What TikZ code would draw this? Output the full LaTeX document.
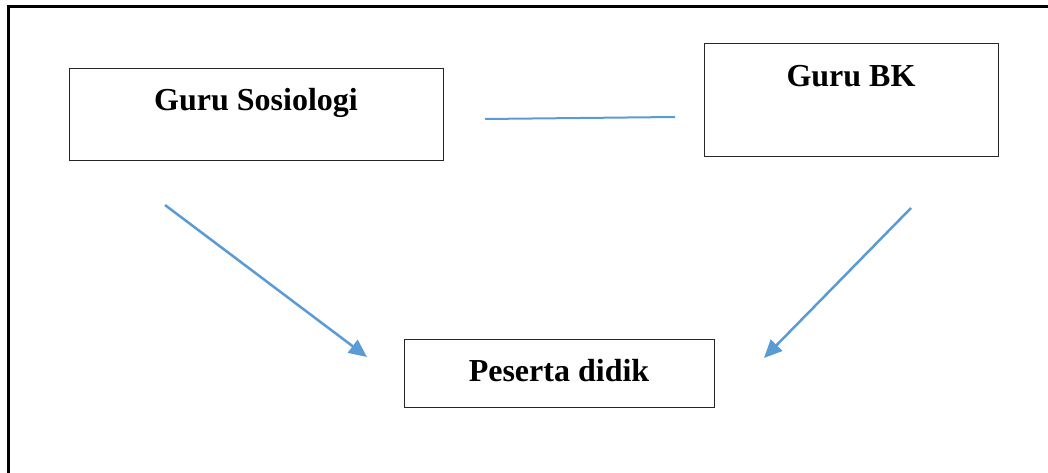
\documentclass[tikz,border=0pt]{standalone}
\usepackage{fontspec}
\setmainfont{Liberation Serif}
\usetikzlibrary{arrows.meta,calc,positioning}
\definecolor{garis}{RGB}{91,155,213}
\tikzstyle{box} = [draw=black!85, rectangle, line width=1pt, inner sep=0pt]
\tikzstyle{judul} = [anchor=base, inner sep=0pt, font=\fontsize{32}{38}\selectfont\bfseries]
\tikzstyle{line} = [draw=garis, line width=2.5pt, -{Triangle[length=18pt,width=16pt]}]

\begin{document}
\begin{tikzpicture}[x=1pt,y=-1pt]
	\useasboundingbox (0,0) rectangle (1048,473);
	% bingkai
	\draw[line width=3pt] (8,473) -- (8,7) -- (1048,7);

	\node [box, minimum width=374pt, minimum height=92pt] (soso) at (256,115) {};
	\node [box, minimum width=294pt, minimum height=113pt] (bk) at (851,100.5) {};
	\node [box, minimum width=310pt, minimum height=68pt] (peserta) at (559,373) {};

	\node [judul] (soso_t) at (256,111) {Guru Sosiologi};
	\node [judul] (bk_t) at (851,87) {Guru BK};
	\node [judul] (peserta_t) at (559,381) {Peserta didik};

	\coordinate (hub_a) at (485,119);
	\coordinate (hub_b) at (675,117);
	\coordinate (soso_out) at (165,205);
	\coordinate (bk_out) at (911,208);
	\coordinate (peserta_kiri) at (367,357);
	\coordinate (peserta_kanan) at (764,358);

	\draw [garis, line width=2pt] (hub_a) -- (hub_b);
	\path [line] (soso_out) -- (peserta_kiri);
	\path [line] (bk_out) -- (peserta_kanan);
\end{tikzpicture}
\end{document}
